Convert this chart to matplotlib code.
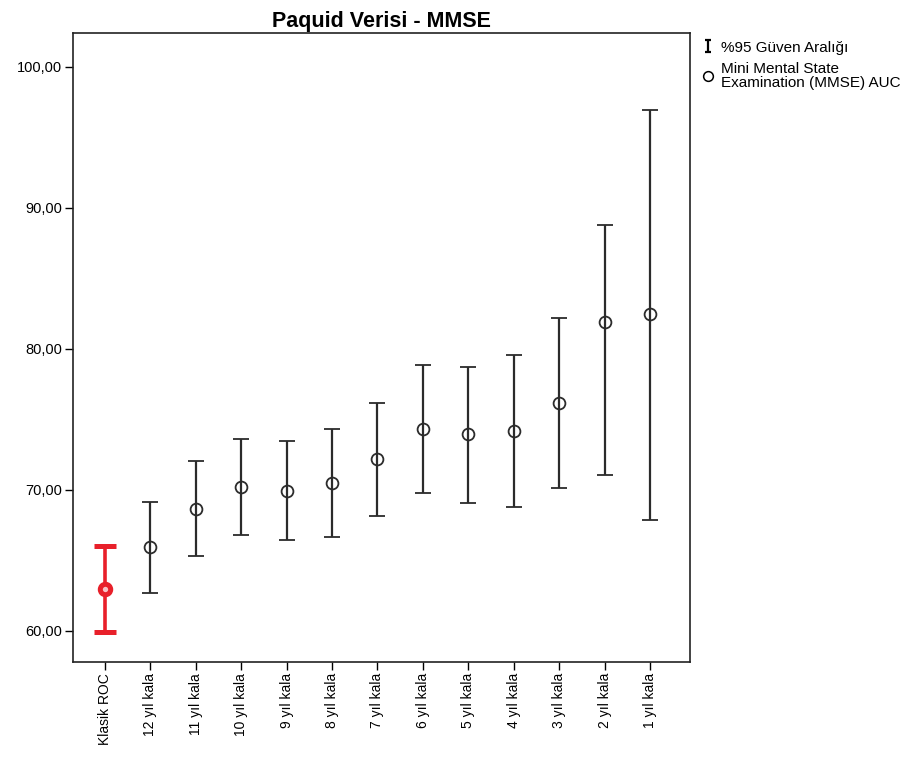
import matplotlib
matplotlib.use("Agg")
import matplotlib.pyplot as plt
from matplotlib.lines import Line2D
from matplotlib.path import Path

plt.rcParams['font.family'] = ['Liberation Sans', 'DejaVu Sans']

# AUC (%) with 95% confidence limits for each model
labels = ['Klasik ROC', '12 yıl kala', '11 yıl kala', '10 yıl kala', '9 yıl kala',
          '8 yıl kala', '7 yıl kala', '6 yıl kala', '5 yıl kala', '4 yıl kala',
          '3 yıl kala', '2 yıl kala', '1 yıl kala']
auc = [63.0, 65.95, 68.65, 70.2, 69.95, 70.5, 72.2, 74.35, 73.95, 74.2, 76.15, 81.9, 82.45]
lower = [59.95, 62.7, 65.3, 66.8, 66.45, 66.65, 68.15, 69.75, 69.1, 68.8, 70.15, 71.05, 67.9]
upper = [66.0, 69.15, 72.05, 73.6, 73.5, 74.35, 76.15, 78.85, 78.7, 79.6, 82.2, 88.8, 96.95]

def fmt_tr(v, pos=None):
    return '{:.2f}'.format(v).replace('.', ',')

fig = plt.figure(figsize=(9.18, 7.63), dpi=100)
ax = fig.add_axes([0.0795, 0.1324, 0.6721, 0.8243])

dark = '#2b2b2b'
for i in range(len(labels)):
    err = [[auc[i] - lower[i]], [upper[i] - auc[i]]]
    if i == 0:
        ax.errorbar([i], [auc[i]], yerr=err, fmt='o', color='#e8202a', ecolor='#e8202a',
                    elinewidth=2.6, capsize=8, capthick=2.6, markersize=7.5,
                    markerfacecolor='#f7c4c6', markeredgecolor='#e8202a',
                    markeredgewidth=3.6, zorder=3)
    else:
        ax.errorbar([i], [auc[i]], yerr=err, fmt='o', color=dark, ecolor=dark,
                    elinewidth=1.6, capsize=6, capthick=1.6, markersize=8.5,
                    markerfacecolor='none', markeredgecolor=dark, markeredgewidth=1.3,
                    zorder=3)

ax.set_xlim(-0.7, len(labels) - 1 + 0.88)
ax.set_ylim(57.8, 102.4)
ax.set_yticks([60, 70, 80, 90, 100])
ax.yaxis.set_major_formatter(plt.FuncFormatter(fmt_tr))
ax.set_xticks(range(len(labels)))
ax.set_xticklabels(labels, rotation=90, va='top')
ax.tick_params(axis='both', direction='out', length=6, width=1, colors='black')
ax.tick_params(axis='y', labelsize=10.5, pad=2)
ax.tick_params(axis='x', labelsize=10, pad=2)
for s in ax.spines.values():
    s.set_color('#222222')
    s.set_linewidth(1.2)

ax.set_title('Paquid Verisi - MMSE', fontsize=15.5, fontweight='bold', pad=4)

# I-beam marker for the confidence interval entry
ibeam = Path([(-0.45, 1), (0.45, 1), (0, 1), (0, -1), (-0.45, -1), (0.45, -1)],
             [Path.MOVETO, Path.LINETO, Path.MOVETO, Path.LINETO, Path.MOVETO, Path.LINETO])
handles = [
    Line2D([], [], linestyle='none', marker=ibeam, markersize=9, markeredgewidth=1.6,
           color='black'),
    Line2D([], [], linestyle='none', marker='o', markersize=7, markerfacecolor='none',
           markeredgecolor='black', markeredgewidth=1.1),
]
leg = ax.legend(handles, ['%95 Güven Aralığı', 'Mini Mental State\nExamination (MMSE) AUC'],
                loc='upper left', bbox_to_anchor=(1.012, 0.995), frameon=False, fontsize=11,
                handlelength=0.8, handletextpad=0.45, borderaxespad=0.2, labelspacing=0.5,
                borderpad=0.1)
for t in leg.get_texts():
    t.set_linespacing(0.95)

fig.savefig('out.png', dpi=100)
